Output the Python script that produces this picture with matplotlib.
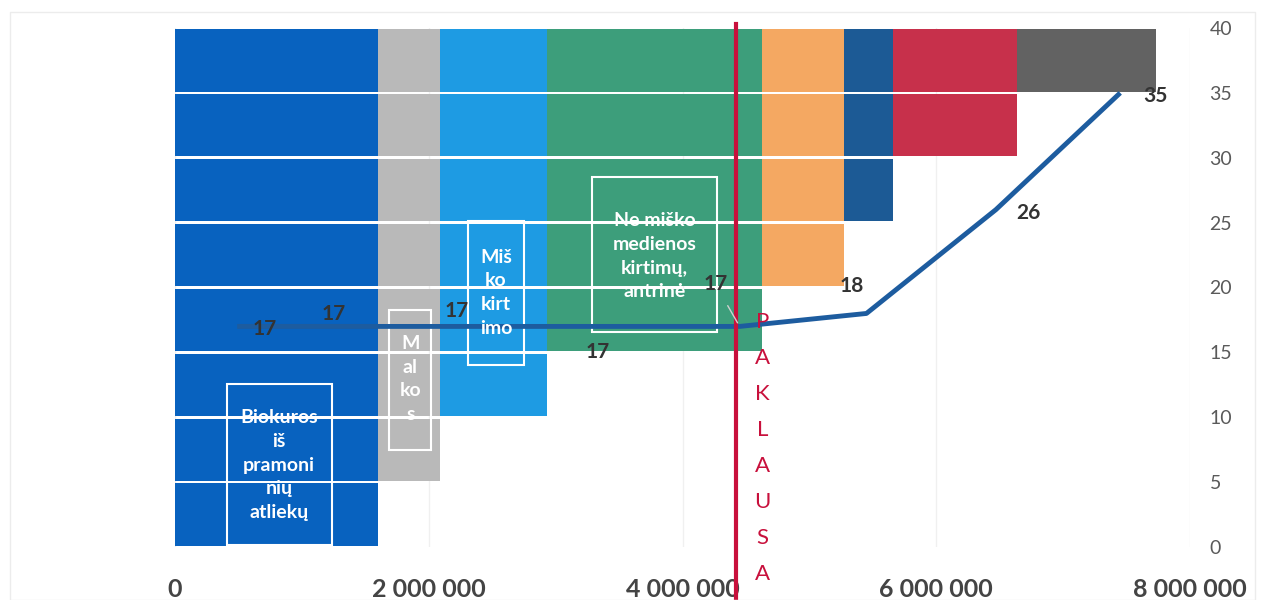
import matplotlib.pyplot as plt
import matplotlib.patches as mpatches

plt.rcParams['font.family'] = ['Lato', 'DejaVu Sans']

# supply blocks: quantity (width) and the price level from which the block appears
resources = ['Biokuros iš pramoninių atliekų', 'Malkos', 'Miško kirtimo',
             'Ne miško medienos kirtimų, antrinė', 'Šaltinis 5', 'Šaltinis 6',
             'Šaltinis 7', 'Šaltinis 8']
quantities = [1.60e6, 0.49e6, 0.84e6, 1.70e6, 0.64e6, 0.39e6, 0.98e6, 1.09e6]
price_floor = [0, 5, 10, 15, 20, 25, 30, 35]
colors = ['#0862bf', '#b9b9b9', '#1e9be3', '#3d9e7b', '#f4a862', '#1c5a95',
          '#c7304b', '#626262']
bands = [0, 5, 10, 15, 20, 25, 30, 35]

# supply curve
curve_x = [0.49e6, 1.25e6, 2.22e6, 3.33e6, 4.45e6, 5.45e6, 6.47e6, 7.45e6]
curve_y = [17, 17, 17, 17, 17, 18, 26, 35]
curve_labels = ['17', '17', '17', '17', '17', '18', '26', '35']
label_offsets = [(28, -3), (0, 12), (0, 15), (0, -26), (-24, 42), (-15, 27), (33, -3), (35, -3)]

demand_x = 4.42e6
demand_text = 'PAKLAUSA'

xticks = [0, 2e6, 4e6, 6e6, 8e6]
xtick_labels = ['0', '2 000 000', '4 000 000', '6 000 000', '8 000 000']
yticks = [0, 5, 10, 15, 20, 25, 30, 35, 40]

fig = plt.figure(figsize=(12.66, 6), dpi=100)
ax = fig.add_axes([175 / 1266, 1 - 547 / 600, (1190 - 175) / 1266, (547 - 28) / 600])

# light frame of chart area
fig.patches.append(mpatches.Rectangle((10 / 1266, 0), 1245 / 1266, 1 - 12 / 600,
                                      transform=fig.transFigure, fill=False,
                                      ec='#ececec', lw=1))

for b in bands:
    left = 0
    for q, p, c in zip(quantities, price_floor, colors):
        if p <= b:
            ax.barh(b + 2.5, q, left=left, height=4.8, color=c, zorder=2)
            left += q

ax.plot(curve_x, curve_y, color='#1d5c9f', lw=3.5, zorder=4, solid_capstyle='butt')
for i, (x, y, t, off) in enumerate(zip(curve_x, curve_y, curve_labels, label_offsets)):
    arrow = dict(arrowstyle='-', color='#d0d0d0', lw=1, shrinkA=7, shrinkB=3) if i == 4 else None
    ax.annotate(t, (x, y), xytext=off, textcoords='offset pixels', ha='center', va='center',
                fontsize=15, fontweight='bold', color='#333333', zorder=6, arrowprops=arrow)

# demand line
ax.plot([demand_x, demand_x], [-4.2, 40.3], color='#c8103c', lw=3, zorder=5, clip_on=False)
for k, ch in enumerate(demand_text):
    ax.annotate(ch, (demand_x, 17.35), xytext=(27, -36 * k), textcoords='offset pixels',
                ha='center', va='center', fontsize=16, color='#c8103c',
                annotation_clip=False, zorder=6)

# white-framed labels
boxes = [
    ((0.41e6, 0.15), 0.83e6, 12.45, (0.82e6, 6.3), 'Biokuros\niš\npramoni\nnių\natliekų'),
    ((1.69e6, 7.5), 0.33e6, 10.8, (1.855e6, 12.95), 'M\nal\nko\ns'),
    ((2.31e6, 14.0), 0.44e6, 11.1, (2.53e6, 19.6), 'Miš\nko\nkirt\nimo'),
    ((3.29e6, 16.6), 0.98e6, 11.9, (3.78e6, 22.4), 'Ne miško\nmedienos\nkirtimų,\nantrinė'),
]
for (x0, y0), w, h, (tx, ty), txt in boxes:
    ax.add_patch(mpatches.Rectangle((x0, y0), w, h, fill=False, ec='white', lw=1.5, zorder=3))
    ax.text(tx, ty, txt, ha='center', va='center', color='white', fontsize=14,
            fontweight='bold', linespacing=1.48, zorder=6)

ax.set_xlim(0, 8e6)
ax.set_ylim(0, 40)
ax.set_xticks(xticks)
ax.set_xticklabels(xtick_labels, fontsize=18, fontweight='bold', color='#444444')
ax.set_yticks(yticks)
ax.yaxis.tick_right()
ax.tick_params(axis='y', length=0, pad=14, labelsize=14, labelcolor='#5a5a5a')
ax.tick_params(axis='x', length=0, pad=22)
ax.grid(axis='x', color='#f0f0f0', lw=1, zorder=0)
ax.set_axisbelow(True)
for s in ax.spines.values():
    s.set_visible(False)

fig.savefig('out.png', dpi=100)
